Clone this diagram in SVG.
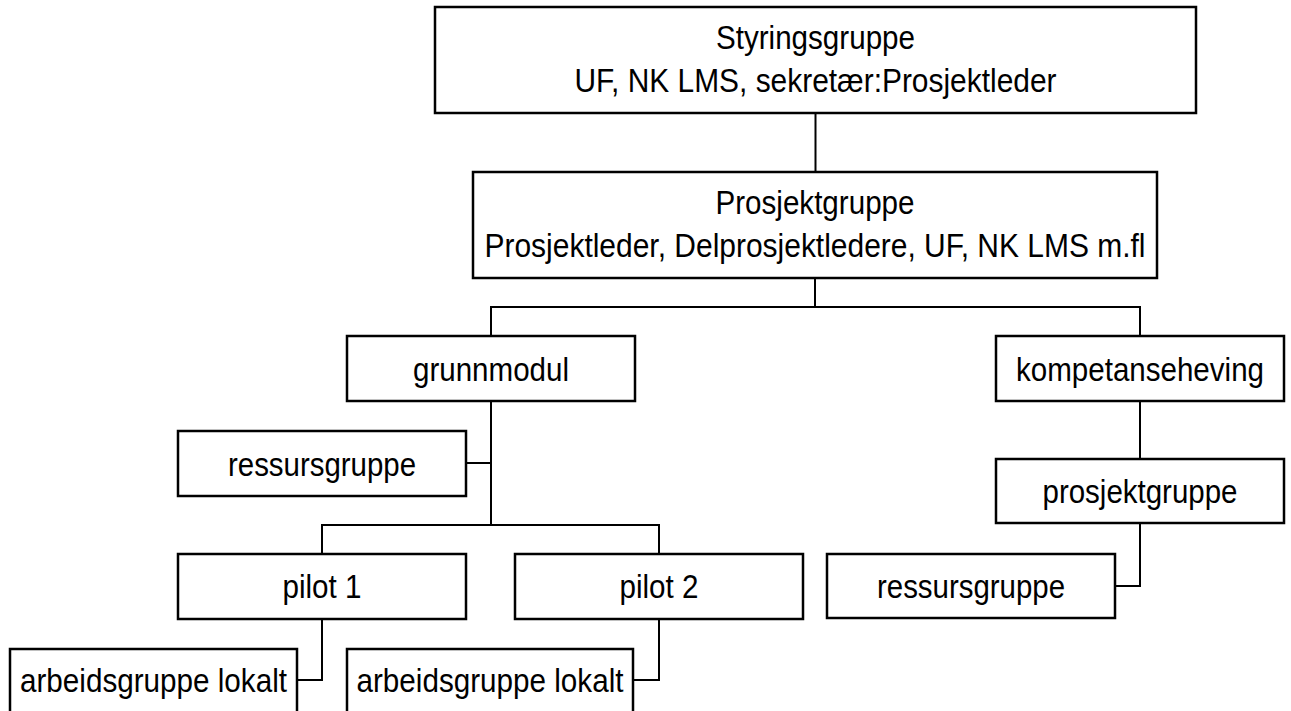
<svg xmlns="http://www.w3.org/2000/svg" width="1291" height="711" viewBox="0 0 1291 711">
<style>
  .box { fill: #ffffff; stroke: #000000; stroke-width: 2.5; }
  .lbl { font-family: "Liberation Sans", Arial, sans-serif; font-size: 33px; fill: #000000; text-anchor: middle; }
  .conn { fill: none; stroke: #000000; stroke-width: 2; }
</style>
<rect width="1291" height="711" fill="#ffffff"/>
<g id="connectors">
  <path class="conn" d="M815.5 113 V172"/>
  <path class="conn" d="M815 278 V307 M491 336 V307 H1140 V336"/>
  <path class="conn" d="M491 401 V525 M466 463 H491"/>
  <path class="conn" d="M322 554 V525 H659 V554"/>
  <path class="conn" d="M322 619 V680 H297"/>
  <path class="conn" d="M659 619 V680 H633"/>
  <path class="conn" d="M1140 401 V459"/>
  <path class="conn" d="M1140 523 V586 H1115"/>
</g>
<g id="styringsgruppe">
  <rect class="box" x="435" y="7" width="761" height="106"/>
  <text class="lbl" x="815.5" y="49" textLength="199" lengthAdjust="spacingAndGlyphs">Styringsgruppe</text>
  <text class="lbl" x="815.5" y="92" textLength="482" lengthAdjust="spacingAndGlyphs">UF, NK LMS, sekretær:Prosjektleder</text>
</g>
<g id="prosjektgruppe-main">
  <rect class="box" x="473" y="172" width="684" height="106"/>
  <text class="lbl" x="815" y="214" textLength="199" lengthAdjust="spacingAndGlyphs">Prosjektgruppe</text>
  <text class="lbl" x="815" y="257" textLength="661" lengthAdjust="spacingAndGlyphs">Prosjektleder, Delprosjektledere, UF, NK LMS m.fl</text>
</g>
<g id="grunnmodul">
  <rect class="box" x="347" y="336" width="288" height="65"/>
  <text class="lbl" x="491" y="381" textLength="156" lengthAdjust="spacingAndGlyphs">grunnmodul</text>
</g>
<g id="kompetanseheving">
  <rect class="box" x="996" y="336" width="288" height="65"/>
  <text class="lbl" x="1140" y="381" textLength="248" lengthAdjust="spacingAndGlyphs">kompetanseheving</text>
</g>
<g id="ressursgruppe-left">
  <rect class="box" x="178" y="431" width="288" height="65"/>
  <text class="lbl" x="322" y="476" textLength="188" lengthAdjust="spacingAndGlyphs">ressursgruppe</text>
</g>
<g id="prosjektgruppe-sub">
  <rect class="box" x="996" y="459" width="288" height="64"/>
  <text class="lbl" x="1140" y="503" textLength="195" lengthAdjust="spacingAndGlyphs">prosjektgruppe</text>
</g>
<g id="ressursgruppe-right">
  <rect class="box" x="827" y="554" width="288" height="64"/>
  <text class="lbl" x="971" y="598" textLength="188" lengthAdjust="spacingAndGlyphs">ressursgruppe</text>
</g>
<g id="pilot1">
  <rect class="box" x="178" y="554" width="288" height="65"/>
  <text class="lbl" x="322" y="598" textLength="79" lengthAdjust="spacingAndGlyphs">pilot 1</text>
</g>
<g id="pilot2">
  <rect class="box" x="515" y="554" width="288" height="65"/>
  <text class="lbl" x="659" y="598" textLength="79" lengthAdjust="spacingAndGlyphs">pilot 2</text>
</g>
<g id="arbeidsgruppe1">
  <rect class="box" x="10" y="649" width="287" height="66"/>
  <text class="lbl" x="153.5" y="692" textLength="267" lengthAdjust="spacingAndGlyphs">arbeidsgruppe lokalt</text>
</g>
<g id="arbeidsgruppe2">
  <rect class="box" x="347" y="649" width="286" height="66"/>
  <text class="lbl" x="490" y="692" textLength="267" lengthAdjust="spacingAndGlyphs">arbeidsgruppe lokalt</text>
</g>
</svg>
